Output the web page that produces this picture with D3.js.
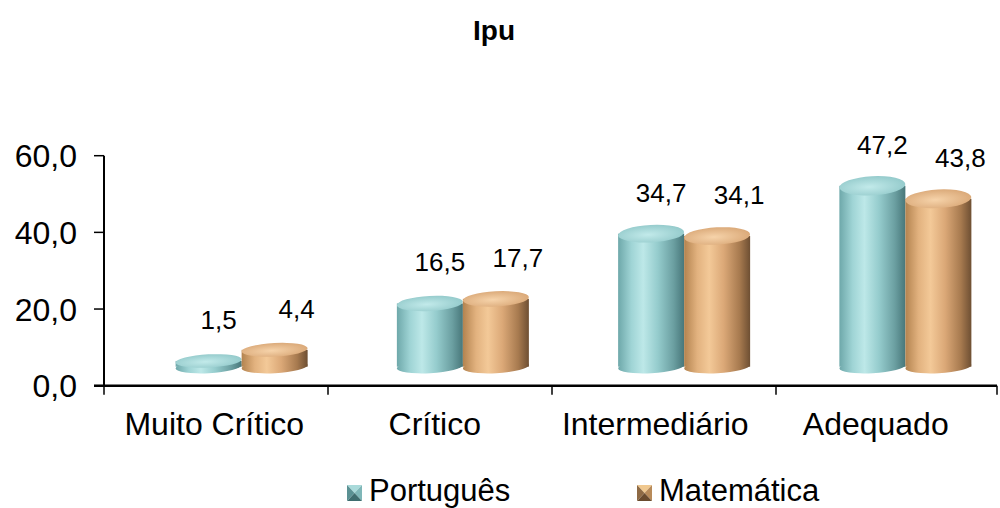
<!DOCTYPE html>
<html>
<head>
<meta charset="utf-8">
<script src="https://cdn.jsdelivr.net/npm/d3@7"></script>
<style>
  html, body { margin: 0; padding: 0; background: #fff; }
  svg { display: block; font-family: "Liberation Sans", Arial, sans-serif; }
</style>
</head>
<body>
<svg id="chart" width="1000" height="508"></svg>
<script>
// Levels of the proficiency scale and the share (%) of students in each one
const categories = ["Muito Crítico", "Crítico", "Intermediário", "Adequado"];
const series = ["Português", "Matemática"];
const portugues = [1.5, 16.5, 34.7, 47.2];
const matematica = [4.4, 17.7, 34.1, 43.8];
const yTicks = [0, 20, 40, 60];
const title = "Ipu";

const values = { "Português": portugues, "Matemática": matematica };

const svg = d3.select("#chart");

const plot = { left: 104, right: 1000, top: 155.7, bottom: 385.7 };
// floor of the 3D scene sits back/up from the front axis
const depth = { dy: 19 };

const y = d3.scaleLinear().domain([0, 60]).range([plot.bottom, plot.top]);
const xAxisScale = d3.scaleBand().domain(categories).range([plot.left, plot.right]);
const xLabels = d3.scaleBand().domain(categories).range([plot.left, plot.right - 14]);
const xBars = d3.scaleBand().domain(categories).range([plot.left + 27, plot.right + 16]);
const cylW = 66;
const xSeries = d3.scaleBand().domain(series)
  .range([xBars.bandwidth() / 2 - cylW, xBars.bandwidth() / 2 + cylW]);

const fmt = d3.formatLocale({ decimal: ",", thousands: ".", grouping: [3], currency: ["R$", ""] }).format(".1f");

const palette = {
  "Português": {
    body: [["0%", "#6ea8aa"], ["20%", "#9fd4d5"], ["38%", "#bde8e8"], ["60%", "#95cccd"], ["84%", "#6b9fa1"], ["100%", "#48777a"]],
    top: [["0%", "#c2eaea"], ["100%", "#92c9ca"]],
    legend: ["#a9dada", "#7fb7b8", "#3f6d6f", "#5b9193"]
  },
  "Matemática": {
    body: [["0%", "#b3834f"], ["20%", "#e2b27f"], ["38%", "#f3c998"], ["60%", "#dba877"], ["84%", "#a77a4f"], ["100%", "#6e4f33"]],
    top: [["0%", "#f6d3aa"], ["100%", "#d9a776"]],
    legend: ["#f0c88f", "#b88b5a", "#6a4b2e", "#8e6a45"]
  }
};

const defs = svg.append("defs");
series.forEach((s, i) => {
  const g = defs.append("linearGradient").attr("id", "body" + i)
    .attr("x1", "0%").attr("x2", "100%").attr("y1", "0%").attr("y2", "0%");
  palette[s].body.forEach(([o, c]) => g.append("stop").attr("offset", o).attr("stop-color", c));
  const r = defs.append("radialGradient").attr("id", "top" + i)
    .attr("cx", "45%").attr("cy", "55%").attr("r", "60%");
  palette[s].top.forEach(([o, c]) => r.append("stop").attr("offset", o).attr("stop-color", c));
});

// Title
svg.append("text")
  .attr("x", 494).attr("y", 40)
  .attr("text-anchor", "middle")
  .attr("font-weight", "bold")
  .attr("font-size", 28)
  .text(title);

// Cylinders
const baseY = y(0) - depth.dy;
const tilt = -3;
const bars = svg.append("g");
categories.forEach((cat, ci) => {
  series.forEach((s, si) => {
    const v = values[s][ci];
    const cx = xBars(cat) + xSeries(s) + xSeries.bandwidth() / 2;
    const topY = y(v) - depth.dy;
    const h = baseY - topY;
    const rx = cylW / 2;
    const ry = 6.5 + h / 180 * 3;
    const g = bars.append("g");
    g.append("ellipse").attr("cx", cx).attr("cy", baseY).attr("rx", rx).attr("ry", 6.5)
      .attr("transform", `rotate(${tilt},${cx},${baseY})`)
      .attr("fill", `url(#body${si})`);
    g.append("rect").attr("x", cx - rx).attr("y", topY).attr("width", cylW).attr("height", h)
      .attr("fill", `url(#body${si})`);
    g.append("ellipse").attr("cx", cx).attr("cy", topY).attr("rx", rx).attr("ry", ry)
      .attr("transform", `rotate(${tilt},${cx},${topY})`)
      .attr("fill", `url(#top${si})`);
  });
});

// Value labels
const labelOffset = { "Português": 10, "Matemática": 22 };
categories.forEach((cat, ci) => {
  series.forEach((s) => {
    const v = values[s][ci];
    const cx = xBars(cat) + xSeries(s) + xSeries.bandwidth() / 2;
    svg.append("text")
      .attr("x", cx + labelOffset[s]).attr("y", y(v) - 51)
      .attr("text-anchor", "middle")
      .attr("font-size", 26)
      .attr("fill", "#000")
      .text(fmt(v));
  });
});

// Y axis
const yAxis = svg.append("g");
yAxis.append("line").attr("x1", plot.left).attr("x2", plot.left)
  .attr("y1", plot.top).attr("y2", plot.bottom).attr("stroke", "#000").attr("stroke-width", 2);
yTicks.forEach(t => {
  yAxis.append("line").attr("x1", plot.left - 10).attr("x2", plot.left)
    .attr("y1", y(t)).attr("y2", y(t)).attr("stroke", "#000").attr("stroke-width", 1.5);
  yAxis.append("text").attr("x", plot.left - 27).attr("y", y(t))
    .attr("dy", "0.36em").attr("text-anchor", "end").attr("font-size", 32)
    .text(fmt(t));
});

// X axis
const xAxis = svg.append("g");
xAxis.append("line").attr("x1", plot.left - 10).attr("x2", plot.right - 3)
  .attr("y1", plot.bottom).attr("y2", plot.bottom).attr("stroke", "#000").attr("stroke-width", 2.5);
const bounds = categories.map(c => xAxisScale(c)).concat([plot.right - 3]);
bounds.forEach(bx => {
  xAxis.append("line").attr("x1", bx).attr("x2", bx)
    .attr("y1", plot.bottom).attr("y2", plot.bottom + 9).attr("stroke", "#000").attr("stroke-width", 1.5);
});
categories.forEach(c => {
  xAxis.append("text").attr("x", xLabels(c) + xLabels.bandwidth() / 2).attr("y", 435)
    .attr("text-anchor", "middle").attr("font-size", 32).text(c);
});

// Legend with bevelled markers
const legendPos = { "Português": 347, "Matemática": 637 };
series.forEach((s) => {
  const x0 = legendPos[s], y0 = 485, w = 15, h = 16;
  const cx = x0 + w / 2, cy = y0 + h / 2;
  const [cTop, cRight, cBottom, cLeft] = palette[s].legend;
  const tri = (pts, c) => svg.append("polygon")
    .attr("points", pts.map(p => p.join(",")).join(" ")).attr("fill", c);
  tri([[x0, y0], [x0 + w, y0], [cx, cy]], cTop);
  tri([[x0 + w, y0], [x0 + w, y0 + h], [cx, cy]], cRight);
  tri([[x0, y0 + h], [x0 + w, y0 + h], [cx, cy]], cBottom);
  tri([[x0, y0], [x0, y0 + h], [cx, cy]], cLeft);
  svg.append("text").attr("x", x0 + w + 7).attr("y", 501)
    .attr("font-size", 31).text(s);
});
</script>
</body>
</html>
